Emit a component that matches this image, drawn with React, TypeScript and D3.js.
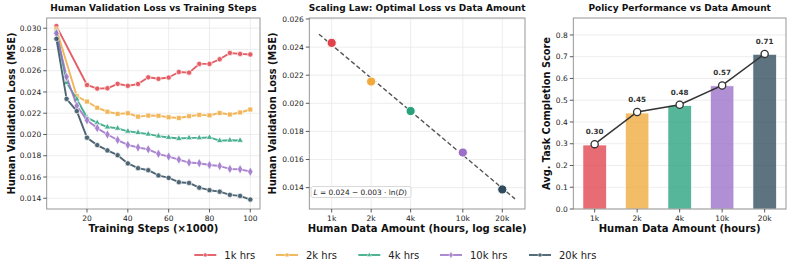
import React from 'react';
import * as d3 from 'd3';

// ---------- DATA ----------
const seriesNames = ['1k hrs', '2k hrs', '4k hrs', '10k hrs', '20k hrs'];
const seriesColors = ['#E0434B', '#F0AA3C', '#27A27C', '#9B6FC8', '#2F4B5C'];
const seriesShapes = ['circle', 'square', 'triangle', 'diamond', 'circle'];

const steps1k = [5, 20, 25, 30, 35, 40, 45, 50, 55, 60, 65, 70, 75, 80, 85, 90, 95, 100];
const loss1k = [0.0302, 0.02466, 0.02432, 0.02435, 0.02477, 0.02458, 0.02475, 0.02538, 0.02524, 0.02536, 0.02588, 0.02582, 0.02664, 0.02664, 0.02708, 0.02767, 0.02758, 0.02753];

const steps2k = [5, 15, 20, 25, 30, 35, 40, 45, 50, 55, 60, 65, 70, 75, 80, 85, 90, 95, 100];
const loss2k = [0.0299, 0.0236, 0.0231, 0.02252, 0.02214, 0.02194, 0.022, 0.02168, 0.02178, 0.02176, 0.02162, 0.02155, 0.02172, 0.02185, 0.0218, 0.02202, 0.02188, 0.02207, 0.02235];

const steps4k = [5, 10, 15, 20, 25, 30, 35, 40, 45, 50, 55, 60, 65, 70, 75, 80, 85, 90, 95];
const loss4k = [0.0297, 0.02488, 0.02332, 0.0216, 0.0211, 0.0207, 0.02058, 0.0203, 0.02018, 0.02003, 0.01985, 0.01972, 0.01962, 0.01968, 0.01968, 0.01972, 0.01942, 0.01946, 0.01944];

const steps10k = [5, 10, 15, 20, 25, 30, 35, 40, 45, 50, 55, 60, 65, 70, 75, 80, 85, 90, 95, 100];
const loss10k = [0.0295, 0.02543, 0.0227, 0.02133, 0.0206, 0.02, 0.01948, 0.01902, 0.01878, 0.0186, 0.01818, 0.01792, 0.01764, 0.01736, 0.0173, 0.01713, 0.01703, 0.01676, 0.01673, 0.0165];

const steps20k = [5, 10, 15, 20, 25, 30, 35, 40, 45, 50, 55, 60, 65, 70, 75, 80, 85, 90, 95, 100];
const loss20k = [0.029, 0.02335, 0.0222, 0.0197, 0.019, 0.0185, 0.01805, 0.01728, 0.01683, 0.01664, 0.01615, 0.01592, 0.01551, 0.01544, 0.015, 0.01476, 0.01462, 0.01432, 0.01422, 0.01388];

const stepTicks = [20, 40, 60, 80, 100];
const lossTicks = [0.014, 0.016, 0.018, 0.02, 0.022, 0.024, 0.026, 0.028, 0.03];

const dataHours = [1000, 2000, 4000, 10000, 20000];
const dataLabels = ['1k', '2k', '4k', '10k', '20k'];
const optimalLoss = [0.0243, 0.02155, 0.01945, 0.0165, 0.01387];
const scalingTicks = [0.014, 0.016, 0.018, 0.02, 0.022, 0.024, 0.026];
const fitRange = [800, 25000];

const barScores = [0.294, 0.441, 0.475, 0.566, 0.711];
const lineScores = [0.298, 0.446, 0.479, 0.568, 0.713];
const scoreTicks = [0, 0.1, 0.2, 0.3, 0.4, 0.5, 0.6, 0.7, 0.8];

const allSteps = [steps1k, steps2k, steps4k, steps10k, steps20k];
const allLoss = [loss1k, loss2k, loss4k, loss10k, loss20k];

// ---------- STYLE ----------
const FONT = 'DejaVu Sans, sans-serif';
const GRID = '#e8e8e8';
const SPINE = '#8c8c8c';
const TICK = '#333';

const P1 = { l: 46.7, r: 260, t: 18, b: 209 };
const P2 = { l: 309.3, r: 525, t: 18, b: 209 };
const P3 = { l: 573.3, r: 786, t: 18, b: 209 };

function symbolPath(shape: string, size: number) {
  const t =
    shape === 'square' ? d3.symbolSquare :
    shape === 'triangle' ? d3.symbolTriangle :
    shape === 'diamond' ? d3.symbolDiamond : d3.symbolCircle;
  return d3.symbol().type(t).size(size)() as string;
}
const markerSize: Record<string, number> = { circle: 22, square: 24, triangle: 18, diamond: 26 };

function Frame({ p }: { p: typeof P1 }) {
  return <rect x={p.l} y={p.t} width={p.r - p.l} height={p.b - p.t} fill="none" stroke={SPINE} strokeWidth={0.9} />;
}

function YTicks({ p, y, ticks, fmt }: any) {
  return (
    <g>
      {ticks.map((v: number) => (
        <g key={v}>
          <line x1={p.l - 3.5} x2={p.l} y1={y(v)} y2={y(v)} stroke={TICK} strokeWidth={0.8} />
          <text x={p.l - 5.5} y={y(v)} dy="0.35em" textAnchor="end" fontSize={7.5} fill="#222" fontFamily={FONT}>{fmt(v)}</text>
        </g>
      ))}
    </g>
  );
}
function XTicks({ p, x, ticks, labels }: any) {
  return (
    <g>
      {ticks.map((v: number, i: number) => (
        <g key={i}>
          <line x1={x(v)} x2={x(v)} y1={p.b} y2={p.b + 3.5} stroke={TICK} strokeWidth={0.8} />
          <text x={x(v)} y={p.b + 12} textAnchor="middle" fontSize={7.5} fill="#222" fontFamily={FONT}>{labels ? labels[i] : String(v)}</text>
        </g>
      ))}
    </g>
  );
}
function Title({ p, text }: any) {
  return <text x={(p.l + p.r) / 2} y={11} textAnchor="middle" fontSize={9} fontWeight="bold" fill="#111" fontFamily={FONT}>{text}</text>;
}
function XLabel({ p, text }: any) {
  return <text x={(p.l + p.r) / 2} y={231.5} textAnchor="middle" fontSize={10} fontWeight="bold" fill="#111" fontFamily={FONT}>{text}</text>;
}
function YLabel({ p, x, text }: any) {
  const cy = (p.t + p.b) / 2;
  return <text transform={`translate(${x},${cy}) rotate(-90)`} textAnchor="middle" dy="0.35em" fontSize={9.8} fontWeight="bold" fill="#111" fontFamily={FONT}>{text}</text>;
}

export default function App() {
  // Panel 1
  const x1 = d3.scaleLinear().domain([0.25, 104.75]).range([P1.l, P1.r]);
  const y1 = d3.scaleLinear().domain([0.01299, 0.03096]).range([P1.b, P1.t]);
  // Panel 2
  const x2 = d3.scaleLog().domain([675, 29800]).range([P2.l, P2.r]);
  const y2 = d3.scaleLinear().domain([0.01248, 0.02607]).range([P2.b, P2.t]);
  // Panel 3
  const x3 = d3.scaleLinear().domain([-0.5025, 4.5025]).range([P3.l, P3.r]);
  const y3 = d3.scaleLinear().domain([0, 0.878]).range([P3.b, P3.t]);

  // least squares fit L = a + b ln(D/1000)
  const lx = dataHours.map(d => Math.log(d / 1000));
  const mx = d3.mean(lx) as number;
  const my = d3.mean(optimalLoss) as number;
  const sxy = d3.sum(lx.map((v, i) => (v - mx) * (optimalLoss[i] - my)));
  const sxx = d3.sum(lx.map(v => (v - mx) * (v - mx)));
  const slope = sxy / sxx;
  const icpt = my - slope * mx;
  const fitY = (d: number) => icpt + slope * Math.log(d / 1000);

  const lineGen = d3.line<[number, number]>().x(d => x1(d[0])).y(d => y1(d[1]));
  const scoreLine = d3.line<number>().x((_, i) => x3(i)).y(d => y3(d));
  const barW = x3(0.55) - x3(0);

  const legendX = [194.3, 276, 358.3, 440, 529];

  return (
    <svg width={793} height={270} style={{ position: 'absolute', left: 0, top: 0, background: '#fff' }} fontFamily={FONT}>
      <rect x={0} y={0} width={793} height={270} fill="#fff" />

      {/* ---------- Panel 1 ---------- */}
      <defs>
        <clipPath id="c1"><rect x={P1.l} y={P1.t} width={P1.r - P1.l} height={P1.b - P1.t} /></clipPath>
      </defs>
      <g>
        {stepTicks.map(v => <line key={v} x1={x1(v)} x2={x1(v)} y1={P1.t} y2={P1.b} stroke={GRID} strokeWidth={0.8} />)}
        {lossTicks.map(v => <line key={v} x1={P1.l} x2={P1.r} y1={y1(v)} y2={y1(v)} stroke={GRID} strokeWidth={0.8} />)}
        <g clipPath="url(#c1)">
          {allSteps.map((st, si) => {
            const pts = st.map((s, i) => [s, allLoss[si][i]] as [number, number]);
            return (
              <g key={si} opacity={0.85}>
                <path d={lineGen(pts) as string} fill="none" stroke={seriesColors[si]} strokeWidth={1.9} strokeLinejoin="round" />
                {pts.map((p, i) => (
                  <path key={i} d={symbolPath(seriesShapes[si], markerSize[seriesShapes[si]])} transform={`translate(${x1(p[0])},${y1(p[1])})`} fill={seriesColors[si]} stroke="#fff" strokeWidth={0.7} />
                ))}
              </g>
            );
          })}
        </g>
        <Frame p={P1} />
        <YTicks p={P1} y={y1} ticks={lossTicks} fmt={(v: number) => v.toFixed(3)} />
        <XTicks p={P1} x={x1} ticks={stepTicks} />
        <Title p={P1} text="Human Validation Loss vs Training Steps" />
        <XLabel p={P1} text="Training Steps (×1000)" />
        <YLabel p={P1} x={11.7} text="Human Validation Loss (MSE)" />
      </g>

      {/* ---------- Panel 2 ---------- */}
      <g>
        {dataHours.map(v => <line key={v} x1={x2(v)} x2={x2(v)} y1={P2.t} y2={P2.b} stroke={GRID} strokeWidth={0.8} />)}
        {scalingTicks.map(v => <line key={v} x1={P2.l} x2={P2.r} y1={y2(v)} y2={y2(v)} stroke={GRID} strokeWidth={0.8} />)}
        <line x1={x2(fitRange[0])} y1={y2(fitY(fitRange[0]))} x2={x2(fitRange[1])} y2={y2(fitY(fitRange[1]))} stroke="#555" strokeWidth={1.4} strokeDasharray="4.5,2.5" />
        {dataHours.map((d, i) => (
          <circle key={d} cx={x2(d)} cy={y2(optimalLoss[i])} r={4.6} fill={seriesColors[i]} stroke="#fff" strokeWidth={1} />
        ))}
        <rect x={311} y={186.5} width={100} height={11} rx={2} fill="#fff" fillOpacity={0.9} stroke="#cfcfcf" strokeWidth={0.8} />
        <text x={313.5} y={194.8} fontSize={7.4} fill="#222" fontFamily={FONT}>
          <tspan fontStyle="italic">L</tspan>
          <tspan> = 0.024 − 0.003 · ln(</tspan>
          <tspan fontStyle="italic">D</tspan>
          <tspan>)</tspan>
        </text>
        <Frame p={P2} />
        <YTicks p={P2} y={y2} ticks={scalingTicks} fmt={(v: number) => v.toFixed(3)} />
        <XTicks p={P2} x={x2} ticks={dataHours} labels={dataLabels} />
        <Title p={P2} text="Scaling Law: Optimal Loss vs Data Amount" />
        <XLabel p={P2} text="Human Data Amount (hours, log scale)" />
        <YLabel p={P2} x={273} text="Human Validation Loss (MSE)" />
      </g>

      {/* ---------- Panel 3 ---------- */}
      <g>
        {scoreTicks.map(v => <line key={v} x1={P3.l} x2={P3.r} y1={y3(v)} y2={y3(v)} stroke={GRID} strokeWidth={0.8} />)}
        {barScores.map((v, i) => (
          <rect key={i} x={x3(i) - barW / 2} y={y3(v)} width={barW} height={y3(0) - y3(v)} fill={seriesColors[i]} fillOpacity={0.78} stroke="#fff" strokeWidth={0.6} />
        ))}
        <path d={scoreLine(lineScores) as string} fill="none" stroke="#333" strokeWidth={1.5} />
        {lineScores.map((v, i) => (
          <g key={i}>
            <circle cx={x3(i)} cy={y3(v)} r={3.6} fill="#fff" stroke="#333" strokeWidth={1.3} />
            <text x={x3(i)} y={y3(v) - 10} textAnchor="middle" fontSize={7.2} fontWeight="bold" fill="#333" fontFamily={FONT}>{v.toFixed(2)}</text>
          </g>
        ))}
        <Frame p={P3} />
        <YTicks p={P3} y={y3} ticks={scoreTicks} fmt={(v: number) => v.toFixed(1)} />
        <XTicks p={P3} x={x3} ticks={[0, 1, 2, 3, 4]} labels={dataLabels} />
        <Title p={P3} text="Policy Performance vs Data Amount" />
        <XLabel p={P3} text="Human Data Amount (hours)" />
        <YLabel p={P3} x={546.7} text="Avg. Task Completion Score" />
      </g>

      {/* ---------- Legend ---------- */}
      <g>
        {seriesNames.map((n, i) => (
          <g key={n} opacity={0.85}>
            <line x1={legendX[i]} x2={legendX[i] + 22} y1={255} y2={255} stroke={seriesColors[i]} strokeWidth={1.9} />
            <path d={symbolPath(seriesShapes[i], markerSize[seriesShapes[i]] * 0.55)} transform={`translate(${legendX[i] + 11},255)`} fill={seriesColors[i]} stroke="#fff" strokeWidth={0.5} />
          </g>
        ))}
        {seriesNames.map((n, i) => (
          <text key={n} x={legendX[i] + 30} y={258.6} fontSize={10} fill="#222" fontFamily={FONT}>{n}</text>
        ))}
      </g>
    </svg>
  );
}
